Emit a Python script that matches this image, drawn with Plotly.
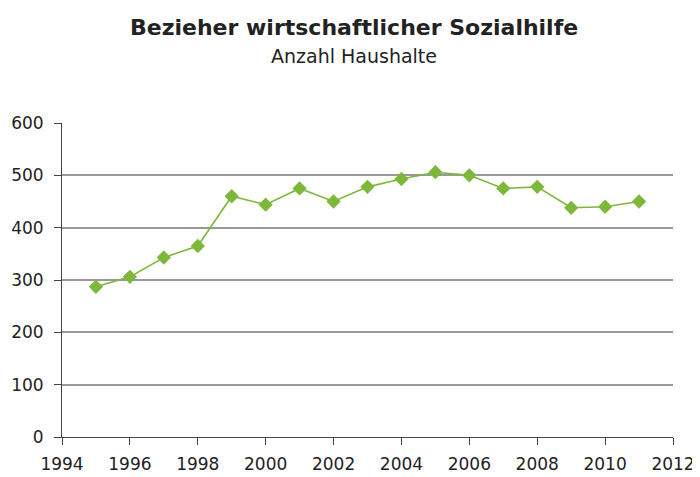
import plotly.graph_objects as go

# data
years = [1995, 1996, 1997, 1998, 1999, 2000, 2001, 2002, 2003,
         2004, 2005, 2006, 2007, 2008, 2009, 2010, 2011]
haushalte = [287, 306, 343, 365, 460, 444, 475, 450, 478,
             493, 506, 500, 475, 478, 438, 440, 450]

x_ticks = list(range(1994, 2013, 2))
y_ticks = list(range(0, 601, 100))

GREEN = "#7DB83A"
FONT = "DejaVu Sans, Arial, sans-serif"

# page body adds an 8px offset on top/left
W, H = 692, 469
ML, MR, MT, MB = 54, 27, 115, 40
h_plot = H - MT - MB

fig = go.Figure(go.Scatter(
    x=years,
    y=haushalte,
    mode="lines+markers",
    line=dict(color=GREEN, width=1.6),
    marker=dict(symbol="diamond", size=11, color=GREEN),
    showlegend=False,
    cliponaxis=False
))

fig.update_layout(
    width=W, height=H,
    margin=dict(l=ML, r=MR, t=MT, b=MB, autoexpand=False),
    plot_bgcolor="white",
    paper_bgcolor="white",
    font=dict(family=FONT, size=16, color="#222222"),
)

fig.add_annotation(text="<b>Bezieher wirtschaftlicher Sozialhilfe</b>",
                   x=0.5, xref="paper", xanchor="center", xshift=-14,
                   y=1 + (MT - 19) / h_plot, yref="paper", yanchor="middle",
                   showarrow=False, font=dict(size=22, color="#222222"))
fig.add_annotation(text="Anzahl Haushalte",
                   x=0.5, xref="paper", xanchor="center", xshift=-14,
                   y=1 + (MT - 48) / h_plot, yref="paper", yanchor="middle",
                   showarrow=False, font=dict(size=19, color="#222222"))

fig.update_xaxes(
    range=[1994, 2012],
    tickvals=x_ticks,
    ticks="outside", ticklen=7, tickcolor="#444444",
    showline=True, linecolor="#444444", linewidth=1,
    showgrid=False, zeroline=False, automargin=False,
    ticklabelstandoff=5,
    tickfont=dict(size=17)
)
fig.update_yaxes(
    range=[0, 600],
    tickvals=y_ticks,
    ticks="outside", ticklen=7, tickcolor="#444444",
    showline=True, linecolor="#444444", linewidth=1,
    showgrid=True, gridcolor="#999999", gridwidth=1.5,
    zeroline=False, automargin=False,
    ticklabelstandoff=7,
    tickfont=dict(size=17)
)

fig.write_html("out.html")
